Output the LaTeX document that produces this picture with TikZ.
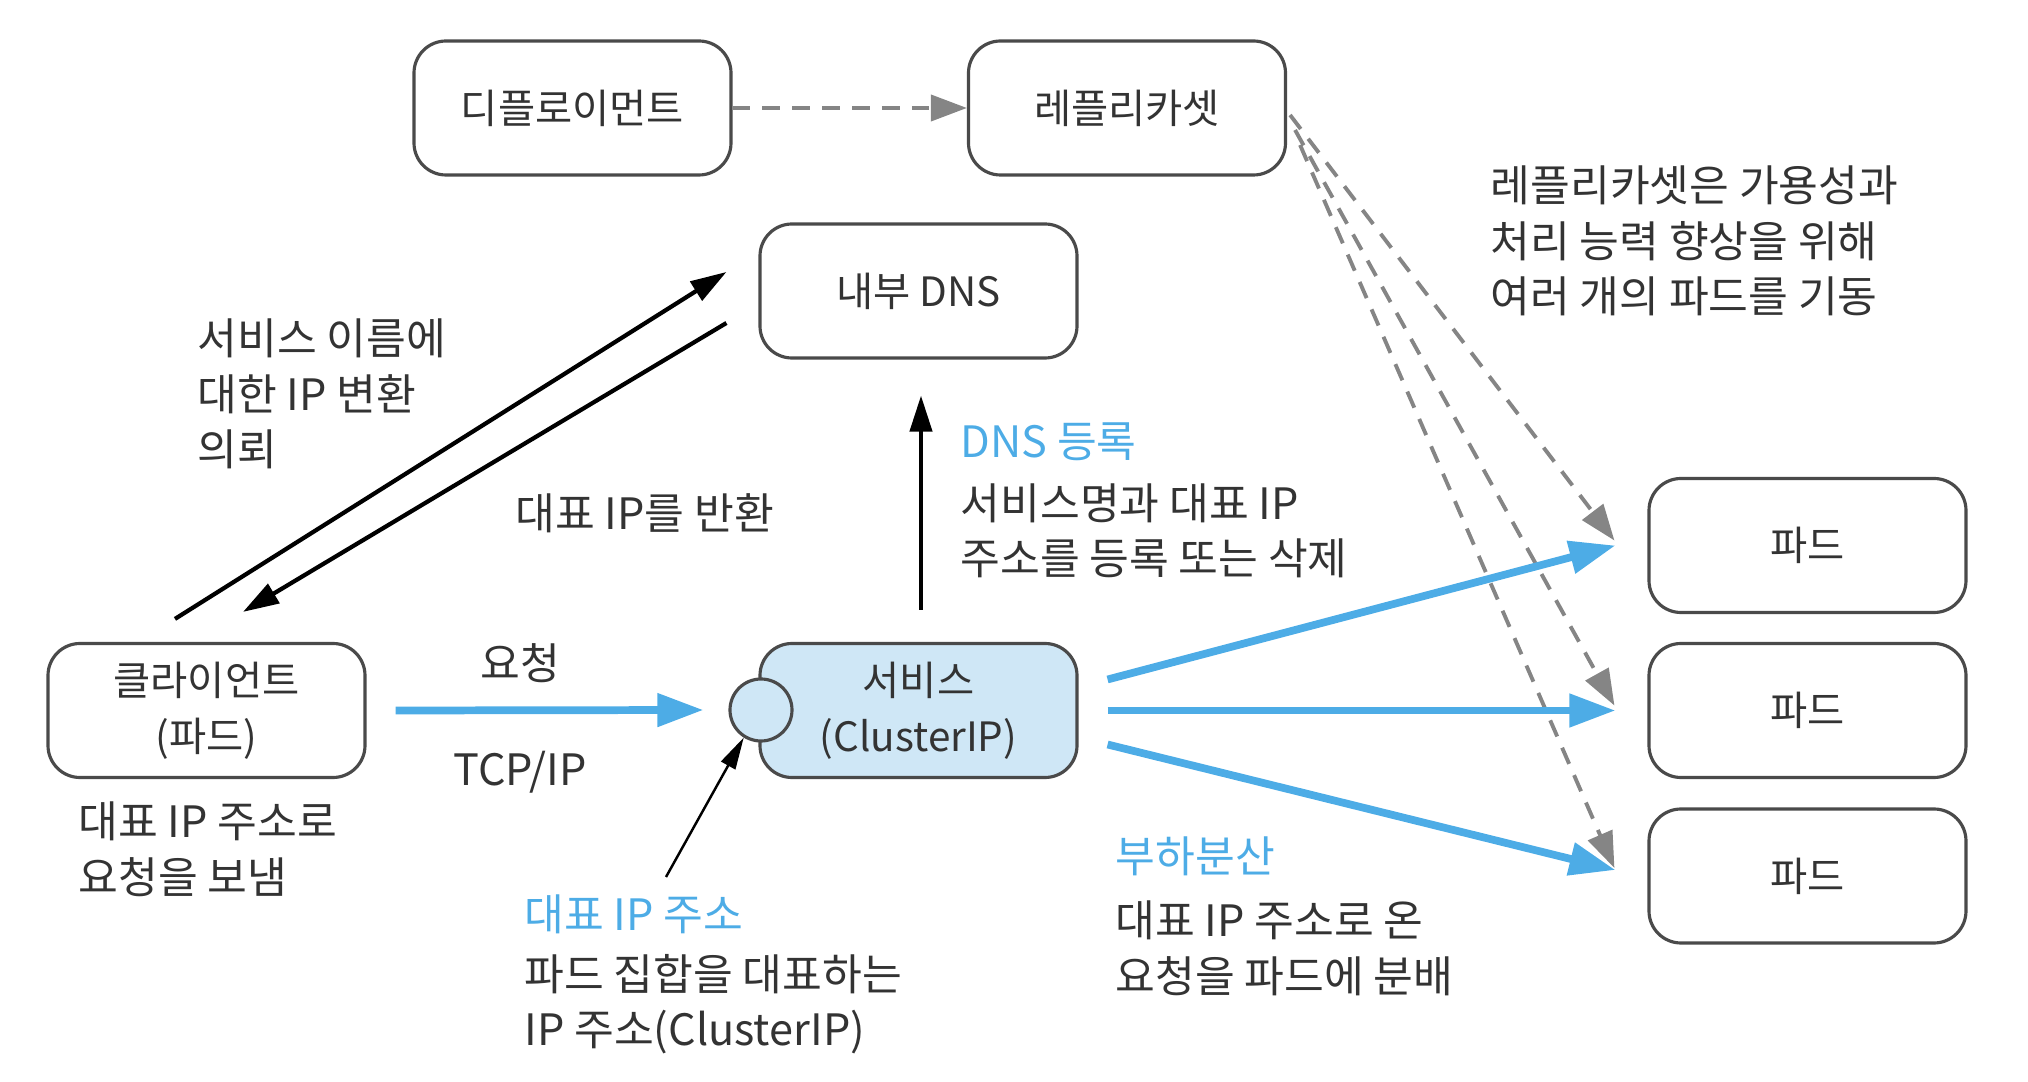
\documentclass[tikz,border=0pt]{standalone}
\usepackage{fontspec}
\setmainfont{Noto Sans CJK KR}
\usetikzlibrary{arrows.meta}

\definecolor{kblue}{HTML}{4DACE6}
\definecolor{kfill}{HTML}{CFE7F6}
\definecolor{ktext}{HTML}{333333}
\definecolor{kline}{HTML}{4A4A4A}
\definecolor{kdash}{HTML}{858585}

\tikzset{
  box/.style={draw=kline, line width=0.9pt, rounded corners=3.2mm,
    minimum width=3.17cm, minimum height=1.34cm, align=center,
    text=ktext, font=\fontsize{11.5}{16}\selectfont},
  memo/.style={anchor=west, inner sep=0pt, align=left, text=ktext,
    font=\fontsize{12.3}{15.8}\selectfont},
  headline/.style={memo, text=kblue},
  flow/.style={draw=kblue, line width=2.2pt, -{Triangle[length=4.6mm,width=3.2mm]}},
  query/.style={draw=black, line width=1.2pt, -{Triangle[length=3.6mm,width=2.2mm]}},
  spawn/.style={draw=kdash, line width=1.1pt, dash pattern=on 5pt off 3.5pt,
    -{Triangle[length=3.6mm,width=2.6mm]}},
}

\begin{document}
\begin{tikzpicture}
  \useasboundingbox (0,0) rectangle (20.28,10.82);

  % 1. 상자
  \node[box] (deploy) at (5.725,9.74) {디플로이먼트};
  \node[box] (rs) at (11.27,9.74) {레플리카셋};
  \node[box] (dns) at (9.185,7.91) {내부 DNS};
  \node[box] (client) at (2.065,3.715) {클라이언트\\(파드)};
  \node[box, fill=kfill] (svc) at (9.185,3.715) {서비스\\(ClusterIP)};
  \node[draw=kline, line width=0.9pt, fill=kfill, circle, minimum size=0.62cm,
    inner sep=0pt] (ipdot) at (7.61,3.72) {};
  \node[box] (pod1) at (18.075,5.365) {파드};
  \node[box] (pod2) at (18.075,3.715) {파드};
  \node[box] (pod3) at (18.075,2.06) {파드};

  % 2. 레플리카셋 (회색 점선)
  \draw[spawn] (deploy.east) -- (rs.west);
  \draw[spawn] ([shift={(0.03,-0.07)}]rs.east) -- ([shift={(-0.33,0.05)}]pod1.west);
  \draw[spawn] ([shift={(0.08,-0.22)}]rs.east) -- ([shift={(-0.33,0.05)}]pod2.west);
  \draw[spawn] ([shift={(0.13,-0.37)}]rs.east) -- ([shift={(-0.33,0.08)}]pod3.west);

  % 3. 내부 DNS 질의와 등록
  \draw[query] ([shift={(-0.315,0.23)}]client.north) -- ([shift={(-0.32,0.19)}]dns.west);
  \draw[query] ([shift={(-0.32,-0.32)}]dns.west) -- ([shift={(0.365,0.30)}]client.north);
  \draw[query] ([shift={(0.025,0.32)}]svc.north) -- ([shift={(0.025,-0.36)}]dns.south);

  % 4. 요청과 부하분산 (파란 화살표)
  \draw[flow] ([xshift=2.9mm]client.east) -- ([xshift=-2.5mm]ipdot.west);
  \draw[flow] ([shift={(0.29,0.31)}]svc.east) -- ([xshift=-3.2mm]pod1.west);
  \draw[flow] ([xshift=2.9mm]svc.east) -- ([xshift=-3.2mm]pod2.west);
  \draw[flow] ([shift={(0.29,-0.34)}]svc.east) -- ([shift={(-0.32,0.06)}]pod3.west);

  \coordinate (iptail) at (6.66,2.05);
  \draw[draw=black, line width=0.7pt, -{Triangle[length=3.2mm,width=1.6mm]}]
    (iptail) -- (ipdot.238);

  % 5. 설명 글
  \node[memo] (rsnote) at (14.90,8.41) {레플리카셋은 가용성과\\처리 능력 향상을 위해\\여러 개의 파드를 기동};
  \node[memo] (asknote) at (1.97,6.88) {서비스 이름에\\대한 IP 변환\\의뢰};
  \node[memo] (backnote) at (5.15,5.69) {대표 IP를 반환};
  \node[headline] (dnshead) at (9.60,6.40) {DNS 등록};
  \node[memo] (dnsnote) at (9.60,5.51) {서비스명과 대표 IP\\주소를 등록 또는 삭제};
  \node[memo, anchor=center] (reqnote) at (5.20,4.19) {요청};
  \node[memo, anchor=center] (tcpnote) at (5.20,3.10) {TCP/IP};
  \node[memo] (clientnote) at (0.78,2.325) {대표 IP 주소로\\요청을 보냄};
  \node[headline] (iphead) at (5.24,1.68) {대표 IP 주소};
  \node[memo] (ipnote) at (5.24,0.78) {파드 집합을 대표하는\\IP 주소(ClusterIP)};
  \node[headline] (lbhead) at (11.15,2.26) {부하분산};
  \node[memo] (lbnote) at (11.15,1.335) {대표 IP 주소로 온\\요청을 파드에 분배};

\end{tikzpicture}
\end{document}
